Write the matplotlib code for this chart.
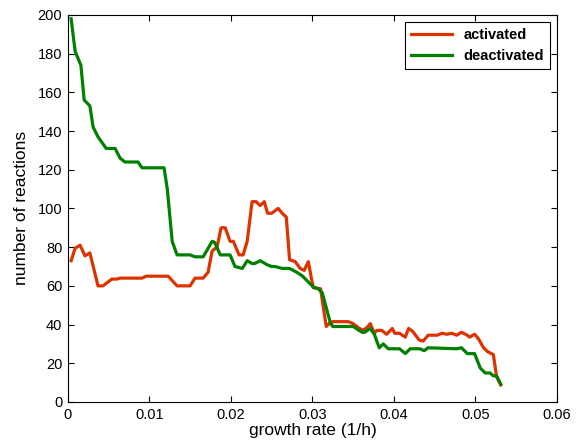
import numpy as np
import matplotlib.pyplot as plt

plt.rcParams['font.family'] = ['Liberation Sans', 'DejaVu Sans']

# activated reactions (red)
rate_act = [0.0004, 0.0009, 0.0015, 0.0021, 0.0027, 0.0037, 0.0043, 0.0054, 0.0060, 0.0064,
            0.0091, 0.0096, 0.0123, 0.0134, 0.0150, 0.0156, 0.0166, 0.0172, 0.0177, 0.0183,
            0.0188, 0.0193, 0.0199, 0.0203, 0.0210, 0.0215, 0.0220, 0.0226, 0.0231, 0.0236,
            0.0241, 0.0245, 0.0250, 0.0258, 0.0263, 0.0268, 0.0272, 0.0279, 0.0285, 0.0290,
            0.0295, 0.0301, 0.0310, 0.0317, 0.0322, 0.0325, 0.0344, 0.0350, 0.0356, 0.0362,
            0.0367, 0.0371, 0.0376, 0.0379, 0.0385, 0.0391, 0.0398, 0.0401, 0.0407, 0.0414,
            0.0418, 0.0423, 0.0431, 0.0436, 0.0442, 0.0453, 0.0459, 0.0465, 0.0471, 0.0477,
            0.0483, 0.0490, 0.0493, 0.0499, 0.0504, 0.0510, 0.0515, 0.0522, 0.0526, 0.0531]
n_act = [73, 79.5, 81, 75.5, 77, 60, 60, 63.5, 63.5, 64,
         64, 65, 65, 60, 60, 64, 64, 67, 78, 80,
         90, 90, 83, 83, 76, 76, 83, 103.5, 103.5, 101.5,
         103.5, 97.5, 97.5, 100, 97.5, 95.5, 73.5, 72.5, 69, 68,
         72.5, 59, 58.5, 39, 41, 41.5, 41.5, 40.5, 38.5, 37,
         38.5, 40.5, 35.5, 37, 37, 35, 38, 35.5, 35.5, 33.5,
         38, 36.5, 32, 31.5, 34.5, 34.5, 35.5, 35, 35.5, 34.5,
         36, 34.5, 33.5, 35, 32.5, 28, 26, 24.5, 13, 8.8]

# deactivated reactions (green)
rate_deact = [0.0004, 0.0009, 0.0016, 0.0020, 0.0027, 0.0031, 0.0037, 0.0047, 0.0058, 0.0064,
              0.0070, 0.0086, 0.0091, 0.0118, 0.0122, 0.0128, 0.0134, 0.0150, 0.0156, 0.0166,
              0.0177, 0.0180, 0.0187, 0.0199, 0.0205, 0.0214, 0.0220, 0.0226, 0.0229, 0.0236,
              0.0244, 0.0250, 0.0254, 0.0263, 0.0272, 0.0281, 0.0288, 0.0295, 0.0301, 0.0307,
              0.0312, 0.0322, 0.0325, 0.0350, 0.0361, 0.0364, 0.0371, 0.0376, 0.0382, 0.0387,
              0.0393, 0.0407, 0.0414, 0.0420, 0.0432, 0.0437, 0.0442, 0.0477, 0.0483, 0.0490,
              0.0499, 0.0506, 0.0512, 0.0518, 0.0522, 0.0526, 0.0531]
n_deact = [198, 181, 174, 156, 153, 142, 137, 131, 131, 126,
           124, 124, 121, 121, 110, 83, 76, 76, 75, 75,
           83, 82.5, 76, 76, 70, 69, 73, 71.5, 71.5, 73,
           71, 70, 70, 69, 69, 67, 65, 62, 59.5, 58.5,
           56.5, 41, 39, 39, 36, 36, 38, 35, 28, 30,
           27.5, 27.5, 25, 27.5, 27.5, 26.5, 28, 27.5, 28, 25,
           25, 17.5, 15, 15, 13.5, 13.5, 9.3]

fig = plt.figure(figsize=(5.85, 4.47), dpi=100)
ax = fig.add_axes([0.116, 0.1007, 0.836, 0.866])

ax.plot(rate_act, n_act, color='#dd3300', lw=2.3, label='activated')
ax.plot(rate_deact, n_deact, color='#008000', lw=2.3, label='deactivated')

ax.set_xlim(0, 0.06)
ax.set_ylim(0, 200)
ax.set_xticks(np.arange(0, 0.061, 0.01))
ax.set_xticklabels(['0', '0.01', '0.02', '0.03', '0.04', '0.05', '0.06'])
ax.set_yticks(np.arange(0, 201, 20))
ax.tick_params(direction='in', top=True, right=True, labelsize=10.5, length=4, pad=4)
ax.set_xlabel('growth rate (1/h)', fontsize=12.5, labelpad=1)
ax.set_ylabel('number of reactions', fontsize=12.5, labelpad=6)

leg = ax.legend(loc='upper right', prop={'weight': 'bold', 'size': 10.5},
                fancybox=False, edgecolor='black', framealpha=1,
                handlelength=2.8, borderaxespad=0.5)
leg.get_frame().set_linewidth(0.8)

fig.savefig('out.png', dpi=100)
